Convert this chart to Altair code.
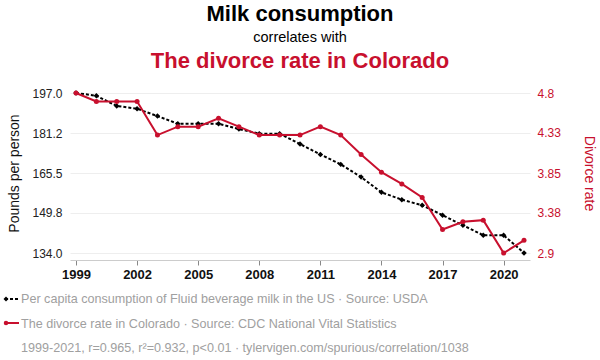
import altair as alt
import pandas as pd

years = list(range(1999, 2022))
milk = [197.0, 195.9, 191.9, 190.8, 187.9, 184.9, 184.9, 184.9, 182.8, 181.0, 181.0,
        176.9, 172.8, 168.9, 163.9, 157.9, 155.0, 152.8, 148.9, 144.9, 141.0, 141.0, 134.0]
divorce = [4.8, 4.7, 4.7, 4.7, 4.3, 4.4, 4.4, 4.5, 4.4, 4.3, 4.3,
           4.3, 4.4, 4.3, 4.07, 3.86, 3.72, 3.56, 3.18, 3.27, 3.29, 2.9, 3.05]
x_ticks = [1999, 2002, 2005, 2008, 2011, 2014, 2017, 2020]
milk_ticks = [134.0, 149.8, 165.5, 181.2, 197.0]
div_ticks = [2.9, 3.38, 3.85, 4.33, 4.8]

title1 = "Milk consumption"
title2 = "correlates with"
title3 = "The divorce rate in Colorado"
leg1 = "Per capita consumption of Fluid beverage milk in the US · Source: USDA"
leg2 = "The divorce rate in Colorado · Source: CDC National Vital Statistics"
leg3 = "1999-2021, r=0.965, r²=0.932, p<0.01 · tylervigen.com/spurious/correlation/1038"

RED = "#c8102e"
FONT = "Liberation Sans"

df = pd.DataFrame({"year": years, "milk": milk, "divorce": divorce})

xenc = alt.X("year:Q",
             scale=alt.Scale(domain=[1999, 2021], nice=False, zero=False, padding=6),
             axis=alt.Axis(values=x_ticks, format="d", title=None, offset=7,
                           domainColor="#cccccc", tickColor="#888888", tickSize=5,
                           labelFontSize=13, labelFontWeight="bold", labelColor="#111111",
                           labelPadding=3, grid=False))

base = alt.Chart(df)

milk_y = alt.Y("milk:Q",
               scale=alt.Scale(domain=[134, 197], nice=False, zero=False),
               axis=alt.Axis(values=milk_ticks, format=".1f", title="Pounds per person",
                             orient="left", domain=False, ticks=False, labelPadding=8,
                             labelFontSize=12, labelColor="#222222", grid=True,
                             gridColor="#eeeeee", titleFontSize=14, titleFontWeight="normal",
                             titleColor="#111111", titlePadding=10))

div_y = alt.Y("divorce:Q",
              scale=alt.Scale(domain=[2.9, 4.8], nice=False, zero=False),
              axis=alt.Axis(values=div_ticks, format=".3~g", title="Divorce rate", orient="right",
                            domain=False, ticks=False, labelPadding=7, grid=False,
                            labelFontSize=12, labelColor=RED, titleColor=RED,
                            titleFontSize=14, titleFontWeight="normal", titlePadding=21))

milk_line = base.mark_line(color="black", strokeWidth=2, strokeDash=[3, 2]).encode(x=xenc, y=milk_y)
milk_pts = base.mark_point(shape="diamond", filled=True, color="black", size=30, opacity=1).encode(x=xenc, y=milk_y)
div_line = base.mark_line(color=RED, strokeWidth=2).encode(x=xenc, y=div_y)
div_pts = base.mark_point(shape="circle", filled=True, color=RED, size=25, opacity=1).encode(x=xenc, y=div_y)

milk_layer = alt.layer(milk_line, milk_pts)
div_layer = alt.layer(div_line, div_pts)

one = pd.DataFrame({"a": [0]})
t = alt.Chart(one)

def txt(s, x, y, size, color, weight="normal", align="center", font=FONT):
    return t.mark_text(text=s, fontSize=size, color=color, fontWeight=weight, align=align,
                       baseline="middle", font=font).encode(x=alt.value(x), y=alt.value(y))

titles = [
    txt(title1, 230, -79, 22, "#000000", "bold"),
    txt(title2, 230, -55, 14.5, "#000000"),
    txt(title3, 230, -32, 22, RED, "bold"),
    txt(leg1, -49, 206, 12.6, "#a0a0a0", align="left"),
    txt(leg2, -49, 231, 12.6, "#a0a0a0", align="left"),
    txt(leg3, -49, 255, 12.6, "#a0a0a0", align="left"),
]

sym1 = t.mark_rule(color="black", strokeWidth=2, strokeDash=[3, 2]).encode(
    x=alt.value(-65), x2=alt.value(-51), y=alt.value(206))
sym1p = t.mark_point(shape="diamond", filled=True, color="black", size=25, opacity=1).encode(
    x=alt.value(-64), y=alt.value(206))
sym2 = t.mark_rule(color=RED, strokeWidth=2).encode(
    x=alt.value(-65), x2=alt.value(-51), y=alt.value(230))
sym2p = t.mark_point(shape="circle", filled=True, color=RED, size=20, opacity=1).encode(
    x=alt.value(-64), y=alt.value(230))

chart = alt.layer(
    milk_layer, div_layer, *titles, sym1, sym1p, sym2, sym2p
).resolve_scale(y="independent").properties(
    width=460, height=160,
    autosize=alt.AutoSizeParams(type="none"),
    padding={"left": 70, "top": 93, "right": 70, "bottom": 107},
).configure(font=FONT).configure_view(stroke=None)

chart.save("out.html", embed_options={"renderer": "svg", "actions": False})
